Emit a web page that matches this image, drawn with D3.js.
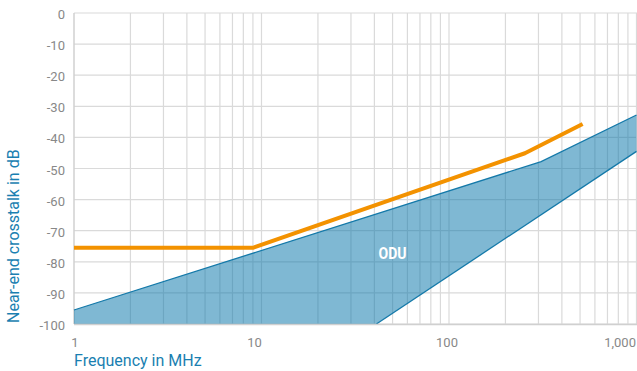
<!DOCTYPE html>
<html>
<head>
<meta charset="utf-8">
<script src="https://cdn.jsdelivr.net/npm/d3@7"></script>
<style>
  body { margin: 0; background: #fff; }
  svg { display: block; font-family: Roboto, "DejaVu Sans", sans-serif; }
</style>
</head>
<body>
<svg id="chart" width="637" height="371"></svg>
<script>
(function() {
  // data
  var freqTicks = [1, 10, 100, 1000];
  var freqLabels = ["1", "10", "100", "1,000"];
  var dbTicks = [0, -10, -20, -30, -40, -50, -60, -70, -80, -90, -100];

  // ODU band (upper and lower edge)
  var oduUpperFreq = [1, 310, 1000];
  var oduUpperDb = [-95.5, -47.8, -32.8];
  var oduLowerFreq = [41, 1000];
  var oduLowerDb = [-100, -44.5];

  // limit line (orange)
  var limitFreq = [1, 9, 254, 516];
  var limitDb = [-75.5, -75.5, -45.1, -35.7];

  var left = 74, right = 636.5, top = 13, bottom = 324;

  var x = d3.scaleLog().domain([1, 1000]).range([left, right]);
  var y = d3.scaleLinear().domain([-100, 0]).range([bottom, top]);

  var svg = d3.select("#chart");

  // minor log grid
  var vLines = [];
  for (var dec = 1; dec < 1000; dec *= 10) {
    for (var k = 2; k <= 10; k++) vLines.push(dec * k);
  }

  var grid = svg.append("g").attr("class", "grid");
  grid.selectAll("line.h")
    .data(dbTicks)
    .enter()
    .append("line")
    .attr("class", "h")
    .attr("x1", left)
    .attr("x2", 637)
    .attr("y1", d => y(d))
    .attr("y2", d => y(d))
    .attr("stroke", "#dadada")
    .attr("stroke-width", 1.2);

  grid.selectAll("line.v")
    .data(vLines)
    .enter()
    .append("line")
    .attr("class", "v")
    .attr("x1", d => x(d))
    .attr("x2", d => x(d))
    .attr("y1", top)
    .attr("y2", bottom)
    .attr("stroke", "#dadada")
    .attr("stroke-width", 1.2);

  // left axis line
  svg.append("line")
    .attr("x1", left).attr("x2", left)
    .attr("y1", top).attr("y2", bottom)
    .attr("stroke", "#d0d0d0")
    .attr("stroke-width", 1.5);

  // ODU band
  var upper = oduUpperFreq.map((f, i) => [f, oduUpperDb[i]]);
  var lower = oduLowerFreq.map((f, i) => [f, oduLowerDb[i]]);
  var poly = upper.concat(lower.slice().reverse(), [[1, -100]]);

  var line = d3.line()
    .x(d => x(d[0]))
    .y(d => y(d[1]));

  svg.append("path")
    .attr("d", line(poly) + "Z")
    .attr("fill", "#0072a8")
    .attr("fill-opacity", 0.5);

  svg.append("path")
    .attr("d", line(upper))
    .attr("fill", "none")
    .attr("stroke", "#1479a9")
    .attr("stroke-width", 1.3);

  svg.append("path")
    .attr("d", line(lower))
    .attr("fill", "none")
    .attr("stroke", "#1479a9")
    .attr("stroke-width", 1.3);

  // bottom axis line
  svg.append("line")
    .attr("x1", left).attr("x2", 637)
    .attr("y1", bottom + 0.5).attr("y2", bottom + 0.5)
    .attr("stroke", "#d0d0d0")
    .attr("stroke-width", 1.5);

  // limit line
  svg.append("path")
    .attr("d", line(limitFreq.map((f, i) => [f, limitDb[i]])))
    .attr("fill", "none")
    .attr("stroke", "#f39200")
    .attr("stroke-width", 4)
    .attr("stroke-linejoin", "round");

  svg.append("text")
    .attr("x", x(50))
    .attr("y", y(-79))
    .attr("text-anchor", "middle")
    .attr("fill", "#fff")
    .attr("font-weight", "bold")
    .attr("font-size", 17)
    .attr("textLength", 28)
    .attr("lengthAdjust", "spacingAndGlyphs")
    .text("ODU");

  // y tick labels
  svg.append("g")
    .selectAll("text")
    .data(dbTicks)
    .enter()
    .append("text")
    .attr("x", 65)
    .attr("y", d => y(d) + 6)
    .attr("text-anchor", "end")
    .attr("fill", "#888")
    .attr("font-size", 13)
    .text(d => d === 0 ? "0" : "-" + Math.abs(d));

  // x tick labels
  var nudge = [1, -7, -2, 0];
  svg.append("g")
    .selectAll("text")
    .data(freqTicks)
    .enter()
    .append("text")
    .attr("x", (d, i) => i === 3 ? 636 : x(d) + nudge[i])
    .attr("y", 347)
    .attr("text-anchor", (d, i) => i === 3 ? "end" : "middle")
    .attr("fill", "#888")
    .attr("font-size", 13)
    .text((d, i) => freqLabels[i]);

  // axis titles
  svg.append("text")
    .attr("x", 74)
    .attr("y", 366)
    .attr("fill", "#1a7fb1")
    .attr("font-size", 16)
    .text("Frequency in MHz");

  svg.append("text")
    .attr("transform", "translate(19,323) rotate(-90)")
    .attr("fill", "#1a7fb1")
    .attr("font-size", 16)
    .text("Near-end crosstalk in dB");
})();
</script>
</body>
</html>
